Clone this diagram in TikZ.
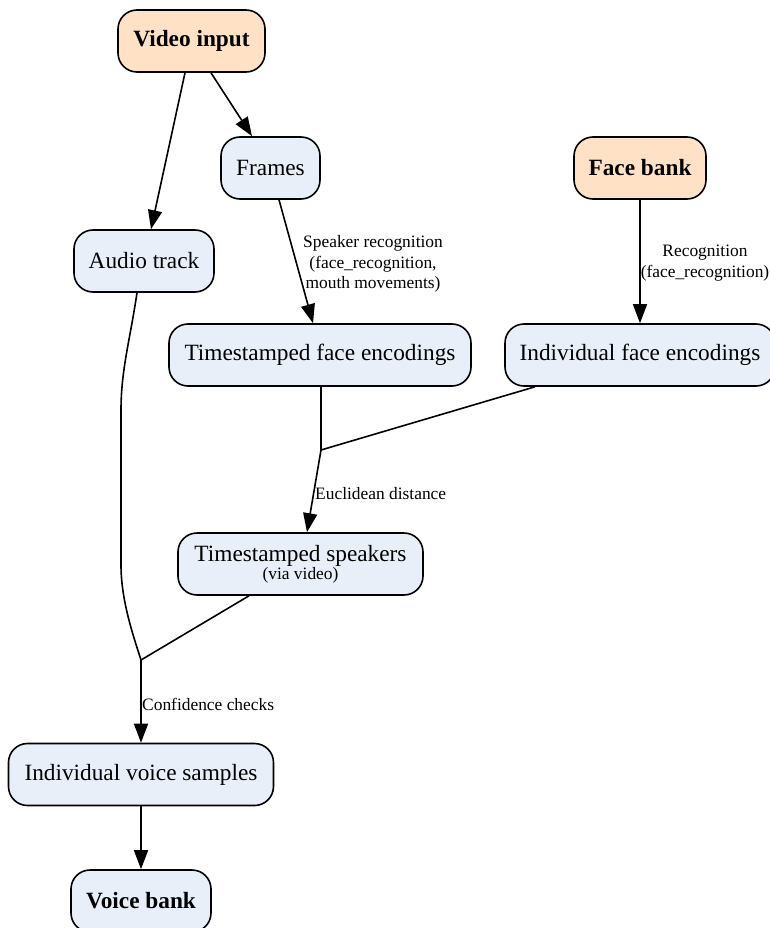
\documentclass[tikz,border=0pt]{standalone}
\usepackage{fontspec}
\setmainfont{Liberation Serif}
\usetikzlibrary{arrows.meta}
\definecolor{peach}{HTML}{FFE2C6}
\definecolor{paleblue}{HTML}{E8EFF8}
\tikzset{
  box/.style={draw=black, line width=1.6pt, rounded corners=19pt, minimum height=62pt,
    inner sep=0pt, fill=paleblue, font=\fontsize{23.3}{28}\selectfont},
  keybox/.style={box, fill=peach, font=\fontsize{23.3}{28}\selectfont\bfseries},
  boldbox/.style={box, font=\fontsize{23.3}{28}\selectfont\bfseries},
  link/.style={line width=1.6pt, -{Triangle[length=19pt,width=14pt]}},
  plain/.style={line width=1.6pt},
  elabel/.style={font=\fontsize{17.4}{20.5}\selectfont, align=center, inner sep=0pt},
}
\begin{document}
\begin{tikzpicture}[x=1pt,y=-1pt]
\useasboundingbox (0,0) rectangle (770,928);

% nodes
\node[keybox, minimum width=147pt] (video) at (191.5,41) {Video input};
\node[box, minimum width=99pt] (frames) at (270.5,168) {Frames};
\node[keybox, minimum width=132pt] (facebank) at (640,168) {Face bank};
\node[box, minimum width=140pt] (audio) at (144,261) {Audio track};
\node[box, minimum width=302pt] (tfe) at (320,355) {Timestamped face encodings};
\node[box, minimum width=270pt] (ife) at (640,355) {Individual face encodings};
\node[box, minimum width=245pt, align=center, font=\fontsize{23.3}{18}\selectfont] (ts) at (300.5,564)
  {Timestamped speakers\\{\fontsize{17.4}{18}\selectfont (via video)}};
\node[box, minimum width=265pt] (ivs) at (141,774.5) {Individual voice samples};
\node[boldbox, minimum width=140pt] (vb) at (141,901) {Voice bank};

% junction points of merged edges
\coordinate (j1) at (321,450);
\coordinate (j2) at (141,660);

% edges
\draw[link] ([xshift=-6.5pt]video.south) -- ([xshift=7pt]audio.north);
\draw[link] ([xshift=19.5pt]video.south) -- ([xshift=-18.5pt]frames.north);
\draw[link] ([xshift=8.5pt]frames.south) -- ([xshift=-7pt]tfe.north);
\node[elabel] (lspk) at (373,264) {Speaker recognition\\(face\_recognition,\\mouth movements)};
\draw[link] (facebank.south) -- (ife.north);
\node[elabel] (lrec) at (705,263) {Recognition\\(face\_recognition)};

\draw[plain] ([xshift=1pt]tfe.south) -- (j1);
\draw[plain] ([xshift=-105pt]ife.south) -- (j1);
\draw[link] (j1) -- ([xshift=6.5pt]ts.north);
\node[elabel, anchor=west] (leuc) at (315,494) {Euclidean distance};

\draw[plain] ([xshift=-7pt]audio.south) .. controls (130,340) and (121,370) .. (121,410)
  -- (121,565) .. controls (121,600) and (133,635) .. (j2);
\draw[plain] ([xshift=-51.5pt]ts.south) -- (j2);
\draw[link] (j2) -- (ivs.north);
\node[elabel, anchor=west] (lconf) at (142,704) {Confidence checks};

\draw[link] (ivs.south) -- (vb.north);
\end{tikzpicture}
\end{document}
